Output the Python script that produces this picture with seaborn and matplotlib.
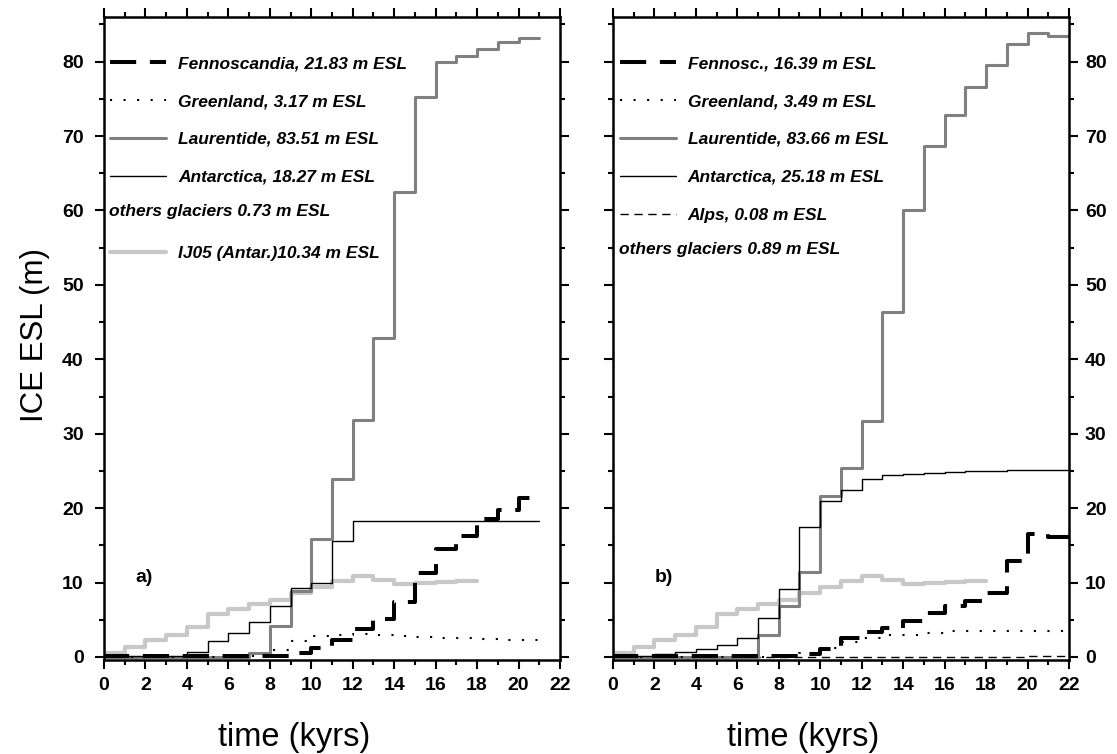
import numpy as np
import pandas as pd
import seaborn as sns
import matplotlib
matplotlib.use("Agg")
import matplotlib.pyplot as plt
import matplotlib.transforms as mtrans
from matplotlib.lines import Line2D
from matplotlib.ticker import MultipleLocator

# ---------------- data (ESL in m, at ages in kyr BP) ----------------
time_a = [0, 1, 2, 3, 4, 5, 6, 7, 8, 9, 10, 11, 12, 13, 14, 15, 16, 17, 18, 19, 20, 21]
time_b = [0, 1, 2, 3, 4, 5, 6, 7, 8, 9, 10, 11, 12, 13, 14, 15, 16, 17, 18, 19, 20, 21, 22]
time_ij05 = [0, 1, 2, 3, 4, 5, 6, 7, 8, 9, 10, 11, 12, 13, 14, 15, 16, 17, 18]

# panel a
fenno_a = [0, 0.1, 0.1, 0.1, 0.1, 0.1, 0.1, 0.1, 0.1, 0.2, 0.55, 1.2, 2.35, 3.8, 5.1, 7.4,
           11.3, 14.5, 16.3, 18.5, 19.8, 21.3]
green_a = [0, 0.05, 0.05, 0.05, 0.05, 0.05, 0.05, 0.05, 0.1, 0.9, 2.2, 2.8, 3.0, 3.1, 2.9,
           2.8, 2.7, 2.6, 2.5, 2.45, 2.35, 2.3]
laur_a = [0, 0.05, 0.05, 0.05, 0.05, 0.05, 0.05, 0.05, 0.5, 4.1, 8.9, 15.9, 23.9, 31.9, 42.9,
          62.5, 75.2, 79.9, 80.7, 81.7, 82.6, 83.2]
anta_a = [0, 0.15, 0.15, 0.15, 0.15, 0.7, 2.1, 3.25, 4.7, 6.8, 9.3, 9.9, 15.6, 18.25, 18.25,
          18.25, 18.25, 18.25, 18.25, 18.25, 18.25, 18.25]

# IJ05 (Antarctica), both panels
ij05 = [0, 0.56, 1.3, 2.3, 2.95, 4.0, 5.75, 6.45, 7.1, 7.7, 8.6, 9.45, 10.2, 10.95, 10.4,
        9.85, 10.0, 10.1, 10.2]

# panel b
fenno_b = [0, 0.1, 0.1, 0.1, 0.1, 0.1, 0.1, 0.1, 0.1, 0.15, 0.35, 1.1, 2.6, 3.3, 3.9, 4.8,
           5.9, 6.8, 7.5, 8.6, 12.9, 16.5, 16.15]
green_b = [0, 0.05, 0.05, 0.05, 0.05, 0.05, 0.05, 0.05, 0.05, 0.1, 0.5, 1.2, 2.0, 2.5, 2.9,
           3.0, 3.2, 3.45, 3.47, 3.47, 3.47, 3.47, 3.47]
laur_b = [0, 0, 0, 0, 0, 0, 0, 0, 2.9, 6.8, 11.4, 21.6, 25.4, 31.7, 46.3, 60.1, 68.7, 72.8,
          76.6, 79.5, 82.4, 83.8, 83.5]
anta_b = [0, 0.15, 0.15, 0.35, 0.7, 1.1, 1.6, 2.6, 5.3, 9.2, 17.45, 20.9, 22.4, 23.9, 24.4,
          24.6, 24.75, 24.9, 25.0, 25.05, 25.1, 25.15, 25.18]
alps_b = [0, 0.04, 0.04, 0.04, 0.04, 0.04, 0.04, 0.04, 0.04, 0.04, 0.04, 0.04, 0.04, 0.04,
          0.04, 0.04, 0.04, 0.04, 0.04, 0.04, 0.04, 0.08, 0.08]

labels_a = ["Fennoscandia, 21.83 m ESL", "Greenland, 3.17 m ESL", "Laurentide, 83.51 m ESL",
            "Antarctica, 18.27 m ESL", " ", "IJ05 (Antar.)10.34 m ESL"]
others_a = "others glaciers 0.73 m ESL"
labels_b = ["Fennosc., 16.39 m ESL", "Greenland, 3.49 m ESL", "Laurentide, 83.66 m ESL",
            "Antarctica, 25.18 m ESL", "Alps, 0.08 m ESL"]
others_b = "others glaciers 0.89 m ESL"

# ---------------- style ----------------
sns.set_style("ticks")
plt.rcParams["font.family"] = ["Liberation Sans", "DejaVu Sans"]
plt.rcParams["axes.linewidth"] = 1.8
for k in ("text.color", "axes.labelcolor", "xtick.color", "ytick.color", "axes.edgecolor"):
    plt.rcParams[k] = "black"

C_LAUR = "#808080"
C_IJ05 = "#c8c8c8"

STY = {
    "fenno": dict(color="black", linewidth=2.9, linestyle=(0, (6.5, 3.4))),
    "green": dict(color="black", linewidth=1.5, linestyle=(0, (1, 5.5))),
    "laur": dict(color=C_LAUR, linewidth=2.2, linestyle="-"),
    "anta": dict(color="black", linewidth=1.0, linestyle="-"),
    "ij05": dict(color=C_IJ05, linewidth=3.0, linestyle="-"),
    "alps": dict(color="black", linewidth=1.0, linestyle=(0, (6, 4))),
}


def step(ax, t, v, key):
    sns.lineplot(x=t, y=v, ax=ax, estimator=None, sort=False,
                 drawstyle="steps-pre", **STY[key])
    return ax.lines[-1]


fig, (ax1, ax2) = plt.subplots(1, 2, figsize=(11.17, 7.54), dpi=100)
fig.subplots_adjust(left=0.0931, right=0.957, top=0.9775, bottom=0.1247, wspace=0.116)

# panel a
h_ij_a = step(ax1, time_ij05, ij05, "ij05")
h_laur_a = step(ax1, time_a, laur_a, "laur")
h_anta_a = step(ax1, time_a, anta_a, "anta")
h_fen_a = step(ax1, time_a, fenno_a, "fenno")
h_gr_a = step(ax1, time_a, green_a, "green")

# panel b
step(ax2, time_ij05, ij05, "ij05")
h_alps_b = step(ax2, time_b, alps_b, "alps")
h_laur_b = step(ax2, time_b, laur_b, "laur")
h_anta_b = step(ax2, time_b, anta_b, "anta")
h_fen_b = step(ax2, time_b, fenno_b, "fenno")
h_gr_b = step(ax2, time_b, green_b, "green")

blank = Line2D([], [], linestyle="none")

FS = 12.5
leg_font = dict(size=FS, weight="bold", style="italic")
common_leg = dict(loc="upper left", frameon=False, prop=leg_font, handlelength=3.23,
                  handletextpad=0.69, labelspacing=1.31, borderpad=0, borderaxespad=0,
                  labelcolor="black")

ax1.legend([h_fen_a, h_gr_a, h_laur_a, h_anta_a, blank, h_ij_a],
           labels_a, bbox_to_anchor=(0.013, 0.9393), **common_leg)
ax2.legend([h_fen_b, h_gr_b, h_laur_b, h_anta_b, h_alps_b],
           labels_b, bbox_to_anchor=(0.015, 0.9393), **common_leg)

txt_kw = dict(fontsize=FS, fontweight="bold", fontstyle="italic", va="center", ha="left",
              color="black")
ax1.text(0.011, 59.8, others_a,
         transform=mtrans.blended_transform_factory(ax1.transAxes, ax1.transData), **txt_kw)
ax2.text(0.013, 54.8, others_b,
         transform=mtrans.blended_transform_factory(ax2.transAxes, ax2.transData), **txt_kw)

ax1.text(0.068, 0.128, "a)", transform=ax1.transAxes, fontsize=14, fontweight="bold",
         va="center", color="black")
ax2.text(0.092, 0.128, "b)", transform=ax2.transAxes, fontsize=14, fontweight="bold",
         va="center", color="black")

for ax in (ax1, ax2):
    ax.set_xlim(0, 22)
    ax.set_ylim(-0.4, 86)
    ax.xaxis.set_major_locator(MultipleLocator(2))
    ax.xaxis.set_minor_locator(MultipleLocator(1))
    ax.yaxis.set_major_locator(MultipleLocator(10))
    ax.yaxis.set_minor_locator(MultipleLocator(5))
    ax.tick_params(which="both", direction="out", top=True, bottom=True, left=True, right=True,
                   labeltop=False, labelbottom=True, width=1.5, color="black",
                   labelcolor="black")
    ax.tick_params(which="major", length=6.5, labelsize=14)
    ax.tick_params(which="minor", length=3.6)
    ax.tick_params(axis="x", pad=6)
    for lab in ax.get_xticklabels() + ax.get_yticklabels():
        lab.set_fontweight("bold")
    ax.set_xlabel("time (kyrs)", fontsize=23.5, color="black")
    ax.xaxis.set_label_coords(0.418, -0.096)
    ax.set_ylabel("")
    for s in ax.spines.values():
        s.set_linewidth(1.8)
        s.set_color("black")
        s.set_visible(True)

ax1.tick_params(axis="y", labelleft=True, labelright=False, pad=8)
ax2.tick_params(axis="y", labelleft=False, labelright=True, pad=5)
for lab in ax2.get_yticklabels(which="both"):
    lab.set_fontweight("bold")
ax1.set_ylabel("ICE ESL (m)", fontsize=22.5, color="black")
ax1.yaxis.set_label_coords(-0.118, 0.505)

fig.savefig("out.png", dpi=100)
